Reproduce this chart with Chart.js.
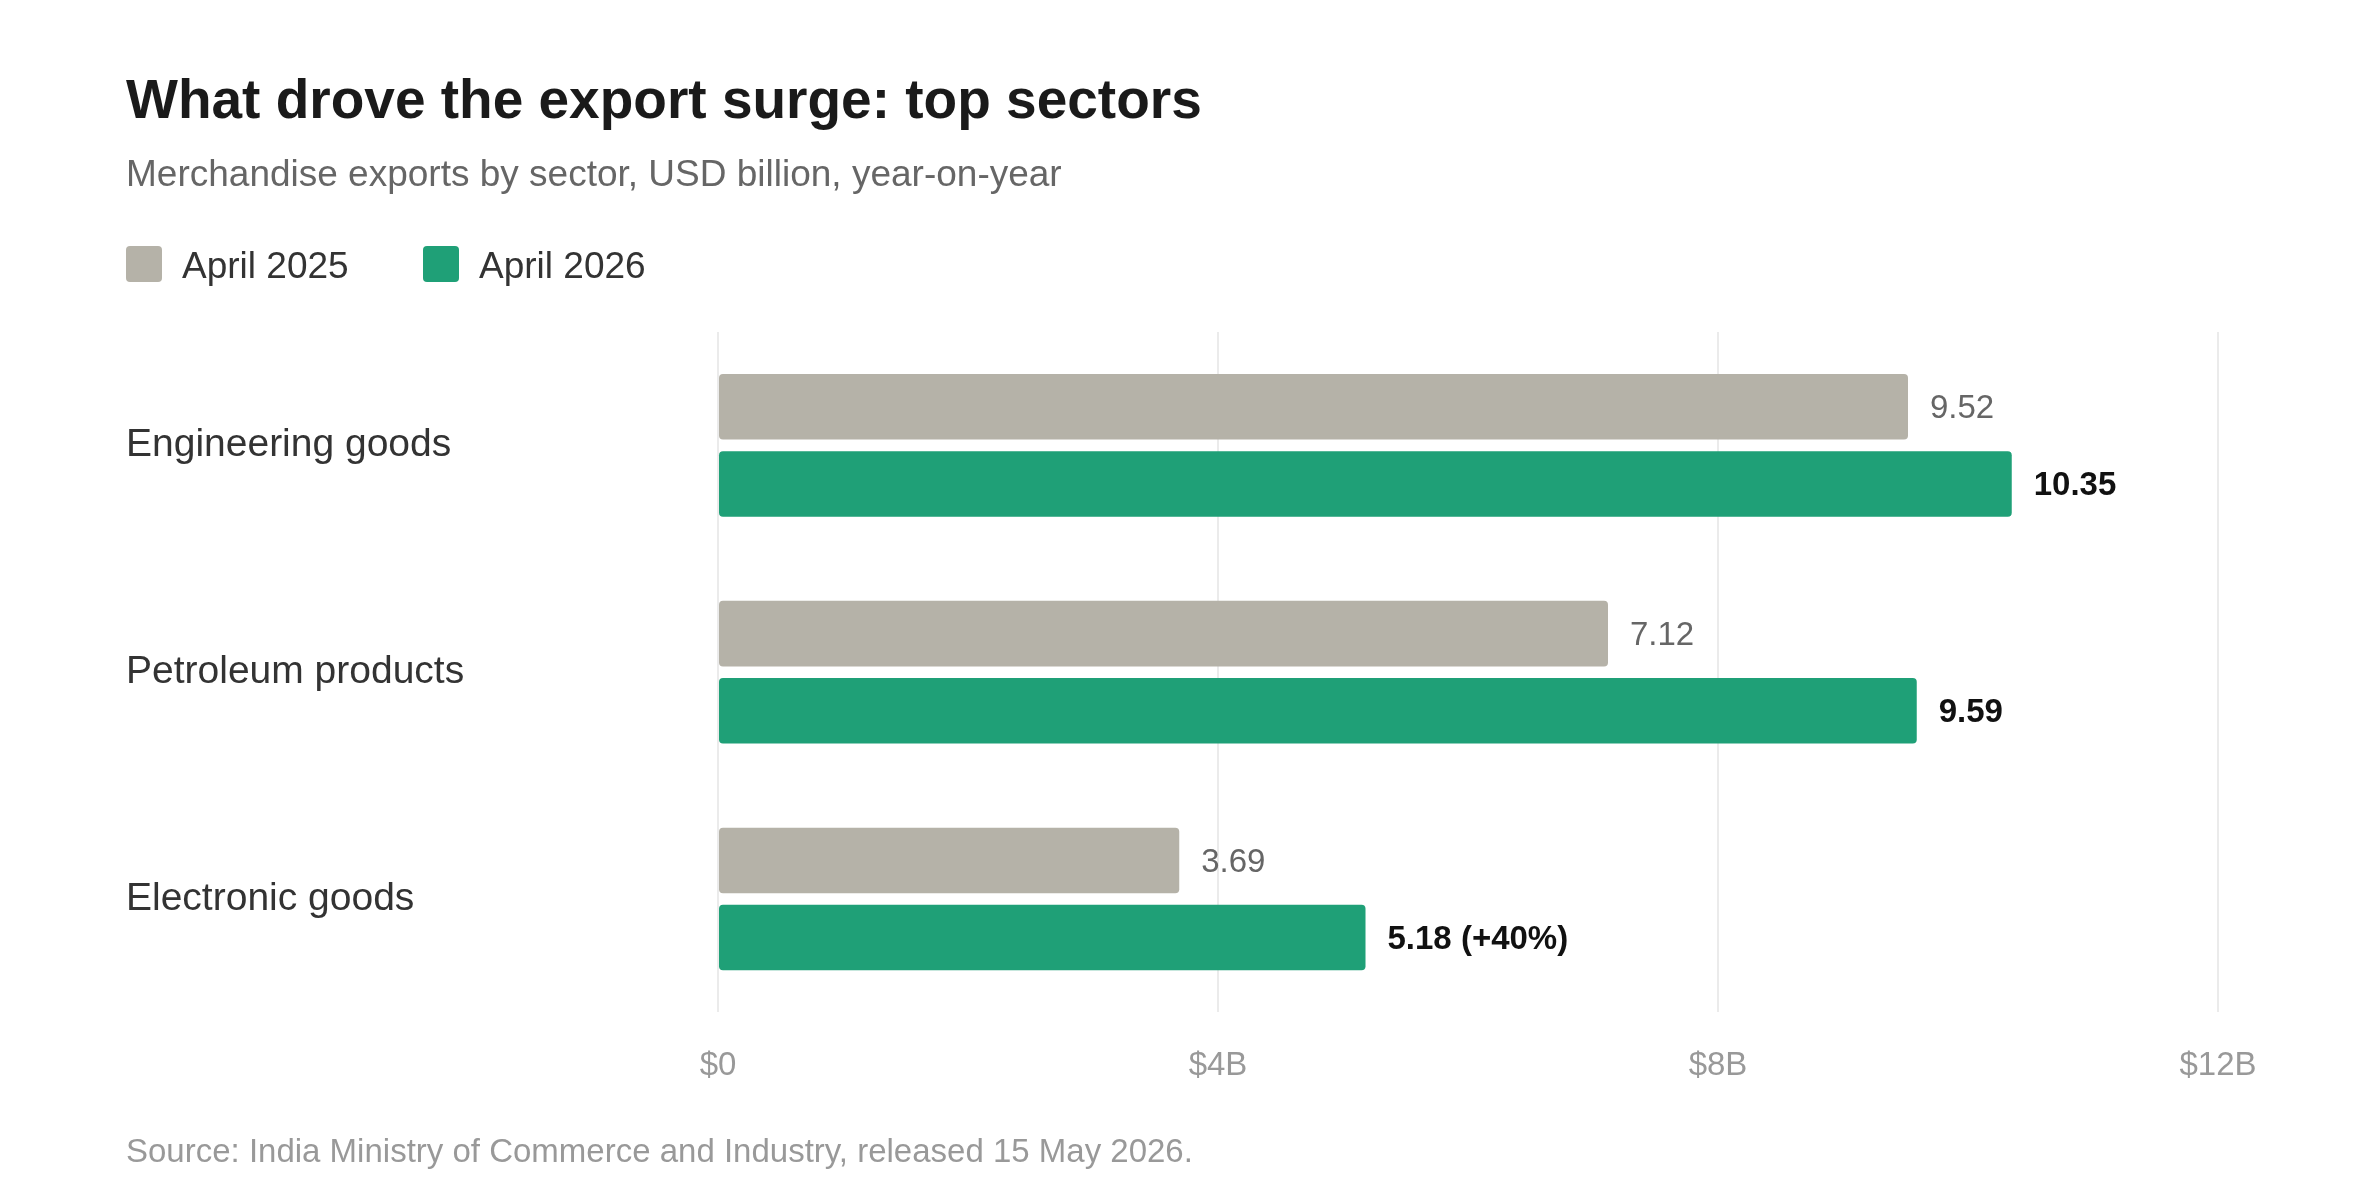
<!DOCTYPE html>
<html><head><meta charset="utf-8">
<script src="https://cdn.jsdelivr.net/npm/chart.js@4"></script>
<style>html,body{margin:0;padding:0;background:#fff}#wrap{width:2375px;height:1188px}</style>
</head><body><div id="wrap"><canvas id="c"></canvas></div>
<script>
const categories = ["Engineering goods", "Petroleum products", "Electronic goods"];
const april2025 = [9.52, 7.12, 3.69];
const april2026 = [10.35, 9.59, 5.18];
const labels2025 = ["9.52", "7.12", "3.69"];
const labels2026 = ["10.35", "9.59", "5.18 (+40%)"];
const xTicks = [0, 4, 8, 12];
const FONT = "'Liberation Sans', Arial, sans-serif";

const deco = {
  id: 'deco',
  beforeDraw(chart) {
    const ctx = chart.ctx;
    ctx.save();
    ctx.textBaseline = 'alphabetic';
    ctx.fillStyle = '#1a1a1a';
    ctx.font = "bold 55px " + FONT;
    ctx.fillText("What drove the export surge: top sectors", 126, 118);
    ctx.fillStyle = '#666';
    ctx.font = "37px " + FONT;
    ctx.fillText("Merchandise exports by sector, USD billion, year-on-year", 126, 186);
    ctx.font = "37px " + FONT;
    ctx.fillStyle = '#b5b2a8';
    ctx.beginPath(); ctx.roundRect(126, 246, 36, 36, 4); ctx.fill();
    ctx.fillStyle = '#333';
    ctx.fillText("April 2025", 182, 278);
    ctx.fillStyle = '#1fa077';
    ctx.beginPath(); ctx.roundRect(423, 246, 36, 36, 4); ctx.fill();
    ctx.fillStyle = '#333';
    ctx.fillText("April 2026", 479, 278);
    ctx.fillStyle = '#999';
    ctx.font = "33px " + FONT;
    ctx.fillText("Source: India Ministry of Commerce and Industry, released 15 May 2026.", 126, 1162);
    ctx.restore();
  },
  afterDatasetsDraw(chart) {
    const ctx = chart.ctx;
    ctx.save();
    ctx.textBaseline = 'middle';
    const sets = [[labels2025, '#666', "33px "], [labels2026, '#111', "bold 33px "]];
    sets.forEach((s, di) => {
      chart.getDatasetMeta(di).data.forEach((bar, i) => {
        ctx.fillStyle = s[1];
        ctx.font = s[2] + FONT;
        ctx.fillText(s[0][i], bar.x + 22, bar.y + 2);
      });
    });
    ctx.restore();
  }
};

new Chart(document.getElementById('c'), {
  type: 'bar',
  data: {
    labels: categories,
    datasets: [
      { label: 'April 2025', data: april2025, backgroundColor: '#b5b2a8', borderRadius: 4, borderSkipped: false },
      { label: 'April 2026', data: april2026, backgroundColor: '#1fa077', borderRadius: 4, borderSkipped: false }
    ]
  },
  options: {
    indexAxis: 'y',
    responsive: true,
    maintainAspectRatio: false,
    animation: false,
    devicePixelRatio: 1,
    layout: { padding: { left: 126, right: 157, top: 332, bottom: 68 } },
    categoryPercentage: 0.68,
    barPercentage: 0.85,
    plugins: { legend: { display: false }, title: { display: false }, tooltip: { enabled: false } },
    scales: {
      x: {
        min: 0, max: 12,
        afterBuildTicks(axis) { axis.ticks = xTicks.map(v => ({ value: v })); },
        ticks: { padding: 34, color: '#999', font: { family: FONT, size: 33 }, callback: v => '$' + v + (v ? 'B' : '') },
        grid: { color: '#ebebeb', lineWidth: 2, drawTicks: false },
        border: { display: false }
      },
      y: {
        afterFit(axis) { axis.width = 592; },
        ticks: { crossAlign: 'far', color: '#333', font: { family: FONT, size: 39 } },
        grid: { display: false, drawTicks: false },
        border: { display: false }
      }
    }
  },
  plugins: [deco]
});
</script></body></html>
